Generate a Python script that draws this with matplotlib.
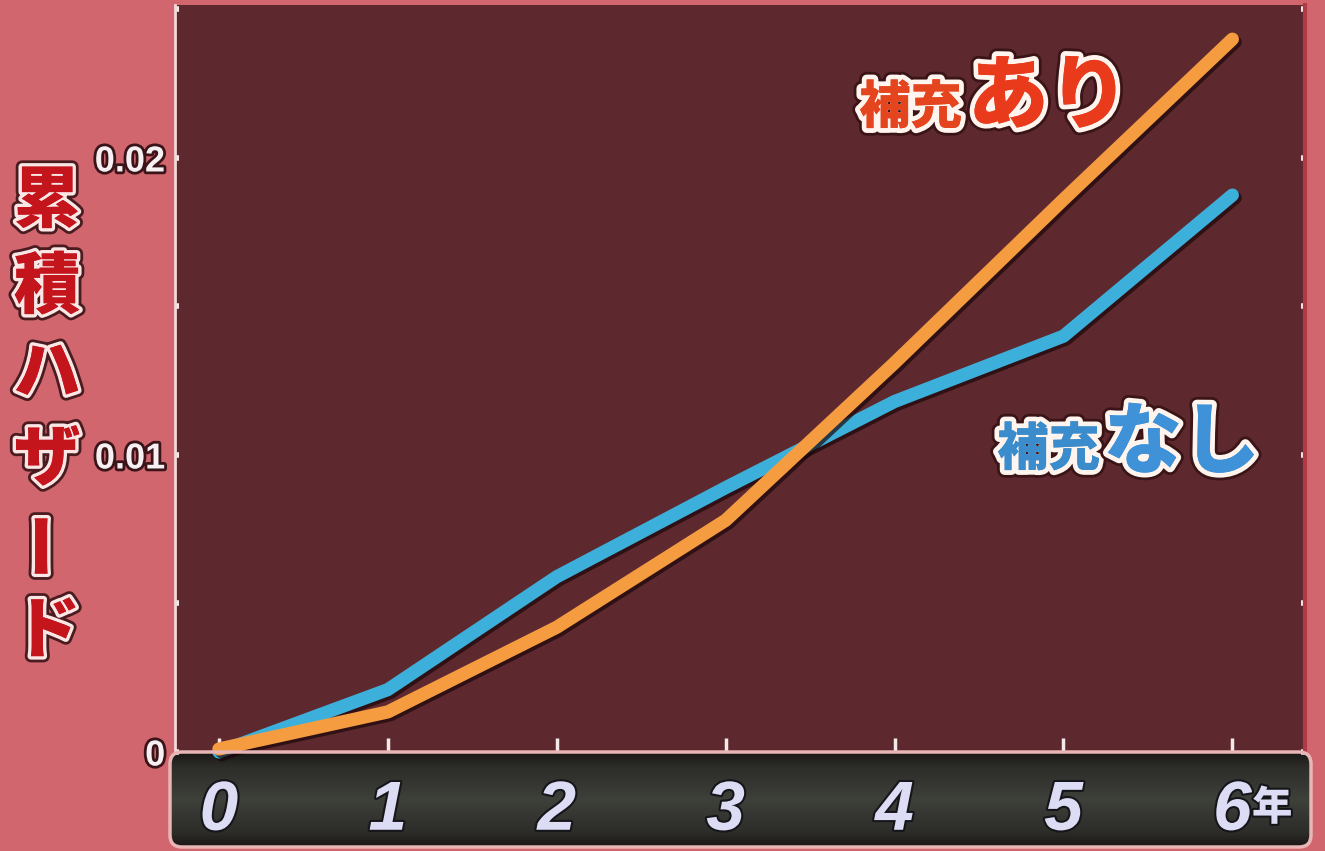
import numpy as np
import matplotlib
matplotlib.use('Agg')
import matplotlib.pyplot as plt
import matplotlib.patheffects as pe
from matplotlib.patches import FancyBboxPatch
from matplotlib.transforms import IdentityTransform
from matplotlib.colors import to_rgb

plt.rcParams['font.family'] = ['Noto Sans CJK JP', 'DejaVu Sans']

# データ（画面から読み取り）
years = [0, 1, 2, 3, 4, 5, 6]
year_labels = ['0', '1', '2', '3', '4', '5', '6']
hazard_ari = [0.0001, 0.00135, 0.0042, 0.0078, 0.0131, 0.0186, 0.0240]   # 補充あり
hazard_nashi = [0.0, 0.0021, 0.0059, 0.0089, 0.0118, 0.0140, 0.01875]    # 補充なし
y_ticks = [0, 0.01, 0.02]
y_tick_labels = ['0', '0.01', '0.02']
y_minor = [0.005, 0.015, 0.025]
ylabel_chars = ['累', '積', 'ハ', 'ザ', 'ー', 'ド']

W, H = 1325, 851
fig = plt.figure(figsize=(W / 100, H / 100), dpi=100)
fig.patch.set_facecolor('#d2666e')


def fx(px):
    return px / W


def fy(py):
    return 1 - py / H


# x軸の黒い帯
bar_ax = fig.add_axes([fx(170), fy(847), fx(1311) - fx(170), fy(752) - fy(847)], zorder=0)
stops = [0.0, 0.15, 0.5, 0.85, 1.0]
cols = ['#1a1816', '#2c2c29', '#3e403a', '#2c2c29', '#1a1816']
t = np.linspace(0, 1, 100)
grad = np.zeros((100, 1, 3))
for i in range(3):
    grad[:, 0, i] = np.interp(t, stops, [to_rgb(c)[i] for c in cols])
im = bar_ax.imshow(grad, aspect='auto', extent=[0, 1, 0, 1])
bar_ax.axis('off')
bar_patch = FancyBboxPatch((170, H - 847), 1141, 95, boxstyle='round,pad=0,rounding_size=12',
                           transform=IdentityTransform(), facecolor='none',
                           edgecolor='#e9b6b6', lw=2.5, zorder=5)
fig.add_artist(bar_patch)
im.set_clip_path(bar_patch)

# メインのグラフ
ax = fig.add_axes([fx(175), fy(752), fx(1305) - fx(175), fy(5) - fy(752)], zorder=1)
ax.set_facecolor('#5d292e')
ax.set_xlim(-0.26, 6.43)
ax.set_ylim(0, 0.02515)

shadow = [pe.SimpleLineShadow(offset=(2, -2), shadow_color='#1c0609', alpha=0.7), pe.Normal()]
ax.plot(years, hazard_nashi, color='#3cb0da', lw=9.5, solid_capstyle='round',
        solid_joinstyle='round', path_effects=shadow, clip_on=False, zorder=3)
ax.plot(years, hazard_ari, color='#f69c40', lw=9.5, solid_capstyle='round',
        solid_joinstyle='round', path_effects=shadow, clip_on=False, zorder=4)

for side in ['top', 'bottom']:
    ax.spines[side].set_visible(False)
ax.spines['left'].set_color('#f3dada')
ax.spines['left'].set_linewidth(2)
ax.spines['right'].set_color('#b23a44')
ax.spines['right'].set_linewidth(3)

# y軸目盛
ax.set_yticks(y_ticks)
ax.set_yticks(y_minor, minor=True)
ax.set_yticklabels(y_tick_labels)
ax.tick_params(axis='y', which='both', direction='in', length=3, width=4,
               color='#f4eaea', left=True, right=True, pad=7)
for lab in ax.get_yticklabels():
    lab.set_family(['Liberation Sans', 'DejaVu Sans'])
    lab.set_fontsize(26)
    lab.set_fontweight('bold')
    lab.set_color('#f6f0f2')
    lab.set_path_effects([pe.withStroke(linewidth=4, foreground='#3a1418')])

# x軸目盛
ax.set_xticks(years)
ax.set_xticklabels(year_labels)
ax.tick_params(axis='x', direction='in', length=10, width=2.5, color='#f4eaea', pad=20)
for lab in ax.get_xticklabels():
    lab.set_family(['Liberation Sans', 'DejaVu Sans'])
    lab.set_fontsize(50)
    lab.set_fontweight('bold')
    lab.set_fontstyle('italic')
    lab.set_color('#dcdcf4')
    lab.set_path_effects([pe.withStroke(linewidth=3, foreground='#15151a')])
fig.text(fx(1252), fy(808), '年', fontsize=29, fontweight='heavy', color='#dcdcf4',
         ha='left', va='center',
         path_effects=[pe.withStroke(linewidth=3, foreground='#15151a')])

# 縦書きの軸ラベル
lab_fx = [pe.withStroke(linewidth=9, foreground='#4a1c20'),
          pe.withStroke(linewidth=5, foreground='#fbe6e6'), pe.Normal()]
for i, ch in enumerate(ylabel_chars):
    fig.text(fx(47), fy(202 + i * 86), ch, fontsize=48, fontweight='heavy', color='#c4141c',
             ha='center', va='center', rotation=90 if ch == 'ー' else 0, path_effects=lab_fx)

# 系列名
name_fx = [pe.withStroke(linewidth=11, foreground='#3a1416'),
           pe.withStroke(linewidth=7, foreground='#fff4ee'), pe.Normal()]
fig.text(fx(962), fy(108), '補充', fontsize=37, fontweight='heavy', color='#e4441e',
         ha='right', va='center', path_effects=name_fx)
fig.text(fx(968), fy(98), 'あり', fontsize=58, fontweight='heavy', color='#ea3a1c',
         ha='left', va='center', path_effects=name_fx)
fig.text(fx(1100), fy(450), '補充', fontsize=37, fontweight='heavy', color='#3a8ccc',
         ha='right', va='center', path_effects=name_fx)
fig.text(fx(1104), fy(444), 'なし', fontsize=56, fontweight='heavy', color='#3f92d8',
         ha='left', va='center', path_effects=name_fx)

fig.savefig('out.png', dpi=100, facecolor=fig.get_facecolor())
